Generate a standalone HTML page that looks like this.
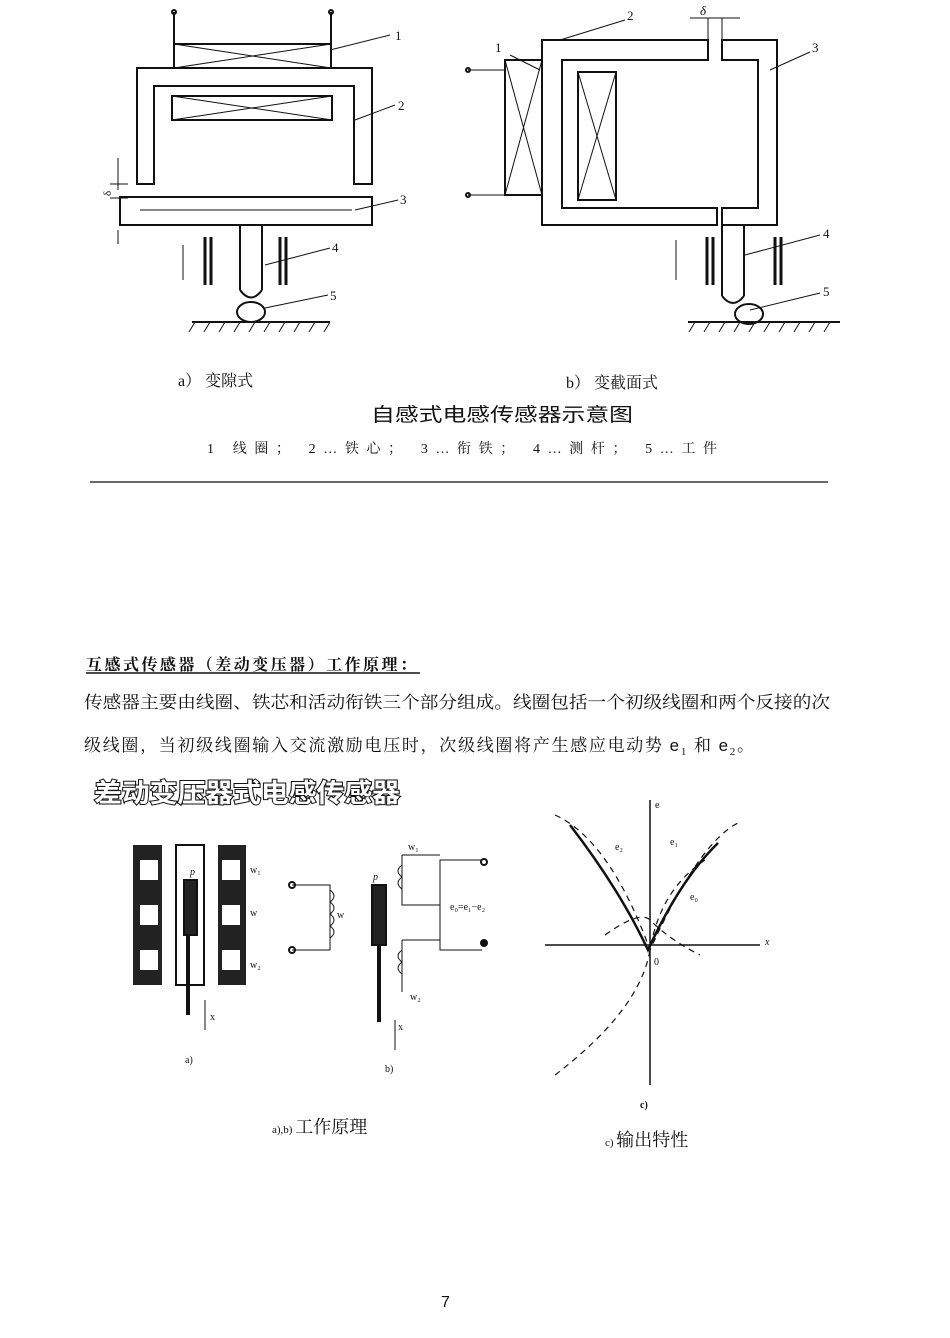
<!DOCTYPE html>
<html><head><meta charset="utf-8"><style>
html,body{margin:0;padding:0;background:#fff}
svg{display:block}
.s{font-family:"Liberation Serif","Noto Serif CJK SC",serif}
.h{font-family:"Liberation Sans","Noto Sans CJK SC",sans-serif}
</style></head><body>
<svg width="950" height="1338" viewBox="0 0 950 1338" xmlns="http://www.w3.org/2000/svg" stroke="#111" fill="none" stroke-width="2">
<!-- Diagram a -->
<line x1="174" y1="12" x2="174" y2="68"/><line x1="331" y1="12" x2="331" y2="68"/>
<circle cx="174" cy="12" r="2"/><circle cx="331" cy="12" r="2"/>
<rect x="174" y="44" width="157" height="24"/>
<path d="M174 44L331 68M174 68L331 44" stroke-width="1"/>
<path d="M137 68H372V184H354V86H154V184H137Z"/>
<rect x="172" y="96" width="160" height="24"/>
<path d="M172 96L332 120M172 120L332 96" stroke-width="1"/>
<rect x="120" y="197" width="252" height="28"/>
<line x1="140" y1="210" x2="352" y2="210" stroke-width="1"/>
<path d="M118 158V190M118 230V244M110 184H128M110 198H128" stroke-width="1"/>
<text x="100" y="195" class="s" font-size="11" fill="#111" stroke="none" transform="rotate(-90 106 190)">δ</text>
<path d="M240 225V290M262 225V290" /><path d="M240 290Q251 305 262 290"/>
<ellipse cx="251" cy="312" rx="14" ry="10"/>
<path d="M205 237V285M211 237V285M280 237V285M286 237V285" stroke-width="3"/>
<path d="M192 322H330"/><path d="M195 322l-6 10M210 322l-6 10M225 322l-6 10M240 322l-6 10M255 322l-6 10M270 322l-6 10M285 322l-6 10M300 322l-6 10M315 322l-6 10M330 322l-6 10" stroke-width="1"/>
<path d="M183 245V280" stroke-width="1"/>
<g stroke-width="1"><path d="M330 50L390 35M355 120L395 105M355 210L398 200M265 265L330 248M265 308L328 295"/></g>
<g class="s" font-size="13" fill="#111" stroke="none"><text x="395" y="40">1</text><text x="398" y="110">2</text><text x="400" y="204">3</text><text x="332" y="252">4</text><text x="330" y="300">5</text></g>
<!-- Diagram b -->
<rect x="505" y="60" width="37" height="135"/><path d="M505 60L542 195M505 195L542 60" stroke-width="1"/>
<path d="M468 70H505M468 195H505" stroke-width="1"/><circle cx="468" cy="70" r="2"/><circle cx="468" cy="195" r="2"/>
<path d="M542 40H708V60H562V208H717V225H542Z"/>
<path d="M722 40H777V225H722V208H758V60H722Z"/>
<rect x="578" y="72" width="38" height="128"/><path d="M578 72L616 200M578 200L616 72" stroke-width="1"/>
<path d="M722 225V296M744 225V296"/><path d="M722 296Q733 310 744 296"/>
<ellipse cx="749" cy="314" rx="14" ry="10"/>
<path d="M707 237V285M713 237V285M775 237V285M781 237V285" stroke-width="3"/>
<path d="M688 322H840"/><path d="M695 322l-6 10M710 322l-6 10M725 322l-6 10M740 322l-6 10M755 322l-6 10M770 322l-6 10M785 322l-6 10M800 322l-6 10M815 322l-6 10M830 322l-6 10" stroke-width="1"/>
<path d="M676 240V280M708 18V40M722 18V40M690 18H740" stroke-width="1"/>
<g stroke-width="1"><path d="M510 55L540 70M560 40L625 20M770 70L810 52M745 255L820 235M750 310L820 293"/></g>
<g class="s" font-size="13" fill="#111" stroke="none"><text x="495" y="52">1</text><text x="627" y="20">2</text><text x="812" y="52">3</text><text x="823" y="238">4</text><text x="823" y="296">5</text><text x="700" y="15" font-style="italic">δ</text></g>
<g fill="#111" stroke="none">
<text x="178" y="386" class="s" font-size="16">a） 变隙式</text>
<text x="566" y="388" class="s" font-size="16">b） 变截面式</text>
<text x="371" y="421" class="h" font-size="19" textLength="262" lengthAdjust="spacingAndGlyphs">自感式电感传感器示意图</text>
<text x="207" y="453" class="s" font-size="14" textLength="510">1  线圈； 2…铁心； 3…衔铁； 4…测杆； 5…工件</text>
</g>
<line x1="90" y1="482" x2="828" y2="482" stroke-width="1.2"/>
<!-- Text section -->
<g fill="#111" stroke="none" class="s">
<text x="86" y="670" font-size="16" font-weight="bold" textLength="330">互感式传感器（差动变压器）工作原理：</text>
<text x="84" y="708" font-size="17" textLength="746" lengthAdjust="spacingAndGlyphs">传感器主要由线圈、铁芯和活动衔铁三个部分组成。线圈包括一个初级线圈和两个反接的次</text>
<text x="84" y="751" font-size="17" letter-spacing="1.7">级线圈，当初级线圈输入交流激励电压时，次级线圈将产生感应电动势 <tspan class="h">e</tspan><tspan font-size="11" dy="4">1</tspan><tspan dy="-4"> 和 </tspan><tspan class="h">e</tspan><tspan font-size="11" dy="4">2</tspan><tspan dy="-4">。</tspan></text>
</g>
<line x1="86" y1="673" x2="420" y2="673" stroke-width="1.5"/>
<text x="94" y="802" class="h" font-size="26" font-weight="bold" fill="#fff" stroke="#111" stroke-width="2" paint-order="stroke" textLength="306" lengthAdjust="spacingAndGlyphs">差动变压器式电感传感器</text>
<!-- lower a -->
<rect x="133" y="845" width="113" height="140" fill="#222" stroke="none"/>
<rect x="162" y="845" width="56" height="140" fill="#fff" stroke="none"/>
<rect x="176" y="845" width="28" height="140" fill="#fff" stroke="#111"/>
<rect x="140" y="860" width="18" height="20" fill="#fff" stroke="none"/><rect x="140" y="905" width="18" height="20" fill="#fff" stroke="none"/><rect x="140" y="950" width="18" height="20" fill="#fff" stroke="none"/>
<rect x="222" y="860" width="18" height="20" fill="#fff" stroke="none"/><rect x="222" y="905" width="18" height="20" fill="#fff" stroke="none"/><rect x="222" y="950" width="18" height="20" fill="#fff" stroke="none"/>
<rect x="184" y="880" width="13" height="55" fill="#222"/><path d="M188 935V1015" stroke-width="4"/>
<path d="M205 1000V1030" stroke-width="1"/>
<g fill="#111" stroke="none" class="s" font-size="10"><text x="190" y="875" font-style="italic">p</text><text x="250" y="873">w₁</text><text x="250" y="916">w</text><text x="250" y="968">w₂</text><text x="210" y="1020">x</text><text x="185" y="1063">a)</text></g>
<!-- lower b -->
<path d="M292 885H330V950H292" stroke-width="1"/><circle cx="292" cy="885" r="3"/><circle cx="292" cy="950" r="3"/>
<path d="M330 890q8 6 0 12q8 6 0 12q8 6 0 12q8 6 0 12" stroke-width="1"/>
<rect x="372" y="885" width="14" height="60" fill="#222"/><path d="M379 945V1022" stroke-width="4"/>
<path d="M402 855H440M402 855V905H440V860H482M440 905V940M402 940H440V950H482M402 940V992" stroke-width="1"/>
<path d="M402 865q-8 6 0 12q-8 6 0 12M402 950q-8 6 0 12q-8 6 0 12" stroke-width="1"/>
<circle cx="484" cy="862" r="3"/><circle cx="484" cy="943" r="3" fill="#111"/>
<path d="M395 1020V1050" stroke-width="1"/>
<g fill="#111" stroke="none" class="s" font-size="10"><text x="373" y="880" font-style="italic">p</text><text x="408" y="850">w₁</text><text x="337" y="918">w</text><text x="450" y="910">e₀=e₁−e₂</text><text x="410" y="1000">w₂</text><text x="398" y="1030">x</text><text x="385" y="1072">b)</text></g>
<!-- lower c -->
<path d="M545 945H760M650 800V1085" stroke-width="1.5"/>
<path d="M570 825Q620 890 648 950Q680 880 718 843" stroke-width="2.5"/>
<path d="M555 815Q610 840 650 950Q700 840 740 822M605 935Q640 910 650 920Q670 940 700 955M555 1075Q640 1010 650 950Q660 890 705 860" stroke-width="1.2" stroke-dasharray="6 5"/>
<g fill="#111" stroke="none" class="s" font-size="10"><text x="654" y="965">0</text><text x="765" y="945" font-style="italic">x</text><text x="655" y="808">e</text><text x="615" y="850">e₂</text><text x="670" y="845">e₁</text><text x="690" y="900">e₀</text><text x="640" y="1108" font-weight="bold">c)</text></g>
<g fill="#111" stroke="none" class="s" font-size="18"><text x="272" y="1133"><tspan font-size="11">a),b) </tspan>工作原理</text><text x="605" y="1146"><tspan font-size="11">c) </tspan>输出特性</text><text x="441" y="1307" class="h" font-size="16">7</text></g>
</svg>
</body></html>
